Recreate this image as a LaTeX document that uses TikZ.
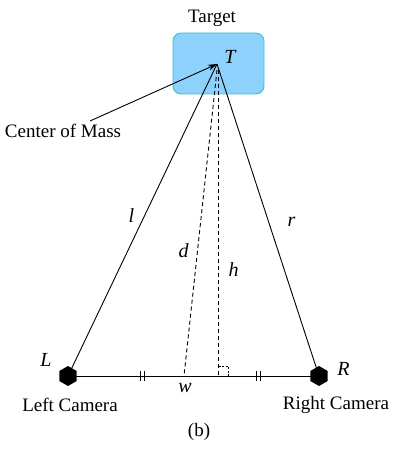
\documentclass[tikz,border=0pt]{standalone}
\usepackage{fontspec}
\setmainfont{Liberation Serif}
\usetikzlibrary{shapes.geometric,arrows.meta}
\begin{document}
\begin{tikzpicture}[x=1pt,y=-1pt,
  lbl/.style={font=\fontsize{19}{21}\selectfont,inner sep=0pt},
  ilbl/.style={font=\fontsize{20}{22}\selectfont\itshape,inner sep=0pt},
  cam/.style={regular polygon,regular polygon sides=6,shape border rotate=30,fill=black,minimum size=20pt,inner sep=0pt},
  solidline/.style={line width=0.9pt},
  dashline/.style={line width=0.9pt,dash pattern=on 4pt off 3pt},
  tick/.style={line width=0.8pt}]
\useasboundingbox (0,0) rectangle (393,454);
% target box
\node[draw={rgb,255:red,64;green,190;blue,200},fill={rgb,255:red,140;green,210;blue,252},rounded corners=8pt,line width=0.9pt,minimum width=91pt,minimum height=61pt,inner sep=0pt] (box) at (218.5,63.5) {};
\node[lbl] (tgt) at (212,18) {Target};
\coordinate (T) at (217,64);
\coordinate (Td) at (217,70);
\node[ilbl] (Tl) at (230,57) {T};
% cameras
\coordinate (Lc) at (68,376);
\coordinate (Rc) at (319,376);
\coordinate (D) at (184,376);
\coordinate (H) at (218.5,376);
\coordinate (Ht) at (218.5,70);
\draw[solidline] (T) -- (Lc);
\draw[solidline] (T) -- (Rc);
\draw[solidline] (Lc) -- (Rc);
\draw[dashline] (Td) -- (D);
\draw[dashline] (Ht) -- (H);
\draw[line width=0.7pt,dash pattern=on 2pt off 1.5pt] (218.5,366.5) -- (228.5,366.5) -- (228.5,376);
% tick marks
\foreach \x in {140.5,144.5,256.5,260.5}
  \draw[tick] (\x,371) -- (\x,381);
\node[cam] (L) at (Lc) {};
\node[cam] (R) at (Rc) {};
\node[ilbl] (Ll) at (46,360) {L};
\node[ilbl] (Rl) at (343.5,369) {R};
\node[lbl] (lc) at (70,405) {Left Camera};
\node[lbl] (rc) at (336,405) {Right Camera};
\node[ilbl] (wl) at (185,388) {w};
\node[lbl] (b) at (199,432) {(b)};
% labels
\node[ilbl] (l) at (131.5,216) {l};
\node[ilbl] (r) at (291.5,222) {r};
\node[ilbl] (d) at (183.5,251) {d};
\node[ilbl] (h) at (233.5,270) {h};
% center of mass
\node[lbl] (com) at (63,131) {Center of Mass};
\coordinate (cs) at (90,121);
\draw[line width=0.9pt,-{Stealth[length=9pt,width=6pt]}] (cs) -- (T);
\end{tikzpicture}
\end{document}
